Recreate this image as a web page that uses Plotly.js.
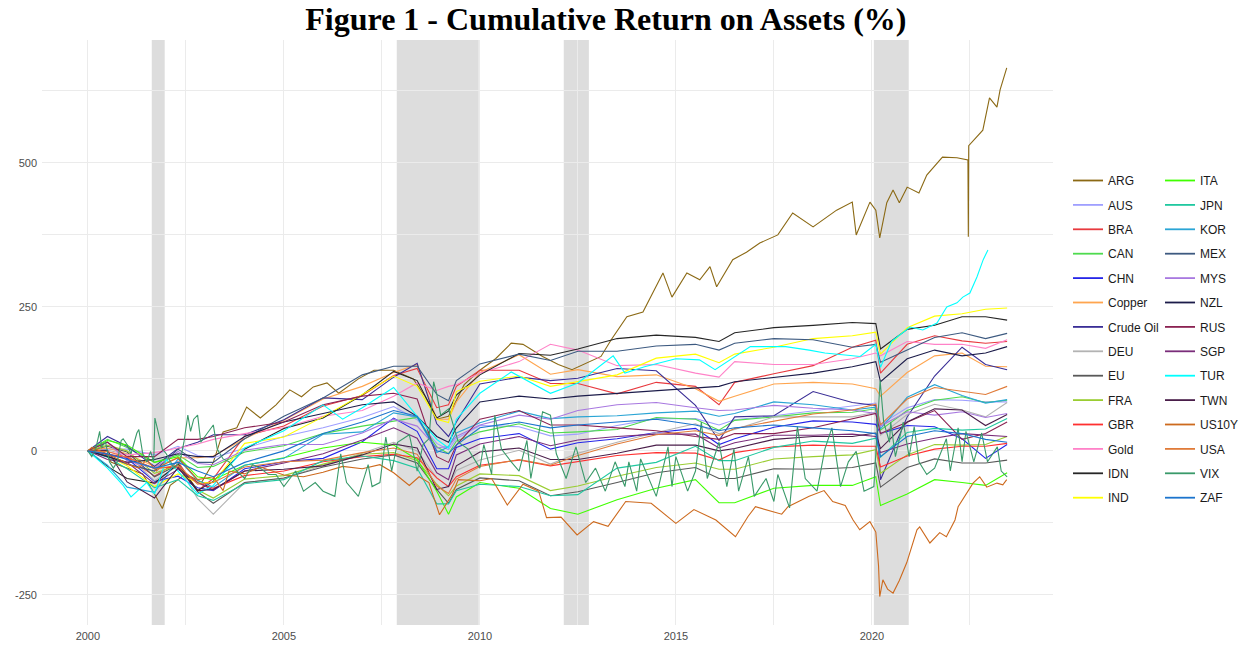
<!DOCTYPE html>
<html>
<head>
<meta charset="utf-8">
<script src="https://cdn.plot.ly/plotly-3.0.1.min.js"></script>
<style>html,body{margin:0;padding:0;background:#fff;}#chart{width:1239px;height:648px;}</style>
</head>
<body>
<div id="chart"></div>
<script>
// ---- data (cumulative log return, %) ----
const grid = [2000.0,2000.5,2001.0,2001.7,2002.3,2002.8,2003.2,2004.0,2005.0,2006.0,2007.0,2007.8,2008.4,2008.9,2009.2,2009.4,2010.0,2011.0,2011.8,2012.5,2013.5,2014.5,2015.5,2016.1,2016.5,2017.5,2018.5,2019.5,2020.1,2020.22,2020.9,2021.6,2022.3,2022.9,2023.45];

const argDates = [2000.0,2000.3,2000.6,2001.0,2001.4,2001.7,2001.9,2002.1,2002.5,2002.9,2003.2,2003.45,2003.8,2004.05,2004.4,2004.8,2005.15,2005.45,2005.75,2006.1,2006.4,2006.9,2007.3,2007.8,2008.3,2008.6,2008.9,2009.2,2009.6,2010.0,2010.4,2010.8,2011.1,2011.6,2012.0,2012.35,2012.7,2013.09,2013.35,2013.57,2013.75,2014.16,2014.67,2014.9,2015.28,2015.61,2015.87,2016.04,2016.45,2016.8,2017.14,2017.6,2017.98,2018.5,2019.1,2019.5,2019.6,2019.95,2020.1,2020.2,2020.38,2020.54,2020.7,2020.9,2021.2,2021.4,2021.8,2022.17,2022.45,2022.46,2022.47,2022.83,2023.0,2023.19,2023.27,2023.44];
const argVals = [0,10,-20,-30,-40,-75,-100,-60,-40,-55,-20,33,40,76,57,80,106,94,111,118,100,125,140,140,125,95,55,60,115,140,160,187,185,164,150,141,152,164,193,215,233,241,309,267,309,297,320,285,332,345,361,375,413,389,418,432,375,432,418,370,431,453,431,458,448,479,510,509,505,372,530,557,613,597,627,665];

const us10Dates = [2000.0,2000.1,2000.5,2000.9,2001.0,2001.3,2001.5,2001.75,2001.9,2002.3,2002.8,2003.2,2003.45,2003.6,2004.0,2004.4,2005.0,2005.5,2006.0,2006.5,2007.0,2007.45,2007.8,2008.2,2008.45,2008.7,2008.97,2009.3,2009.45,2010.0,2010.3,2010.7,2011.1,2011.5,2011.7,2012.07,2012.48,2012.9,2013.27,2013.72,2014.37,2015.0,2015.46,2016.02,2016.52,2016.84,2017.03,2017.7,2017.86,2018.4,2018.78,2019.0,2019.32,2019.52,2019.69,2019.95,2020.1,2020.17,2020.2,2020.28,2020.4,2020.54,2020.7,2020.89,2021.15,2021.22,2021.48,2021.73,2021.9,2022.12,2022.2,2022.42,2022.58,2022.75,2022.93,2023.19,2023.34,2023.44];
const us10Vals = [0,6,-6,-18,-23,-30,-15,-35,-25,-12,-50,-45,-69,-35,-40,-28,-42,-45,-37,-27,-31,-24,-38,-60,-45,-55,-111,-75,-50,-52,-48,-94,-58,-70,-116,-115,-146,-123,-131,-88,-91,-126,-102,-120,-149,-114,-97,-110,-97,-79,-69,-88,-95,-120,-137,-123,-141,-200,-253,-224,-240,-247,-225,-194,-137,-132,-160,-142,-149,-120,-97,-73,-56,-45,-63,-56,-59,-50];

const turDates = [2000.0,2000.5,2000.9,2001.1,2001.5,2001.7,2002.0,2002.3,2002.8,2003.2,2004.0,2005.0,2006.0,2006.5,2007.0,2007.8,2008.4,2008.9,2009.2,2009.4,2010.0,2010.8,2011.8,2012.5,2013.4,2013.7,2014.2,2015.0,2015.6,2016.0,2016.9,2017.8,2018.4,2018.8,2019.7,2020.1,2020.22,2020.5,2020.97,2021.3,2021.66,2021.91,2022.17,2022.32,2022.5,2022.68,2022.84,2022.96];
const turVals = [0,-30,-60,-80,-55,-75,-15,-35,-75,-60,5,35,80,55,75,110,60,20,5,55,100,137,100,118,165,135,146,160,158,141,181,181,175,170,164,185,145,190,215,210,222,250,257,267,274,302,332,349];

const vixDates = [2000.0,2000.1,2000.2,2000.3,2000.35,2000.45,2000.55,2000.65,2000.75,2000.85,2000.9,2001.0,2001.1,2001.25,2001.3,2001.4,2001.5,2001.6,2001.68,2001.71,2001.8,2001.9,2002.0,2002.2,2002.35,2002.45,2002.55,2002.62,2002.7,2002.8,2002.88,2002.95,2003.05,2003.2,2003.3,2003.45,2003.6,2003.8,2004.0,2004.2,2004.4,2004.6,2004.8,2005.0,2005.3,2005.5,2005.8,2006.0,2006.3,2006.45,2006.6,2006.9,2007.15,2007.25,2007.45,2007.6,2007.75,2007.9,2008.05,2008.2,2008.4,2008.55,2008.7,2008.82,2008.9,2009.0,2009.2,2009.45,2009.7,2010.0,2010.1,2010.3,2010.38,2010.55,2010.8,2011.0,2011.2,2011.3,2011.6,2011.8,2011.95,2012.2,2012.45,2012.7,2012.95,2013.2,2013.45,2013.7,2013.8,2014.0,2014.1,2014.5,2014.8,2014.9,2015.0,2015.3,2015.5,2015.65,2015.8,2016.1,2016.3,2016.48,2016.6,2016.85,2017.0,2017.3,2017.5,2017.6,2017.9,2018.1,2018.3,2018.6,2018.8,2018.98,2019.2,2019.4,2019.6,2019.8,2020.05,2020.15,2020.21,2020.3,2020.45,2020.48,2020.6,2020.8,2020.95,2021.08,2021.2,2021.4,2021.6,2021.9,2022.0,2022.2,2022.3,2022.4,2022.6,2022.8,2022.95,2023.2,2023.3,2023.45];
const vixVals = [0,-10,3,34,7,15,-19,-30,-19,18,21,11,-5,31,37,-5,-19,-1,-19,57,31,3,-5,-30,-19,15,62,34,55,62,15,21,31,45,3,-14,-19,-35,-48,-24,-30,-41,-41,-62,-35,-70,-55,-70,-79,-5,-55,-79,-24,-62,-55,24,-35,15,21,28,-35,11,21,120,99,62,73,15,3,-30,11,-41,62,3,-19,-35,18,-48,68,62,-5,-48,7,-55,-30,-70,-19,-62,-19,-70,-14,-79,7,-62,-10,-70,-35,50,-48,15,-62,3,-70,-10,-79,-48,-88,-41,-99,42,-48,-70,3,40,-62,-19,-1,-70,-62,50,122,50,15,50,-10,50,-10,42,-19,-41,-30,21,-35,40,-19,34,-19,31,-19,7,-35,-45];

const aus    = [0,3,3,-7,8,-8,-12,5,25,40,58,77,54,13,2,21,44,42,26,29,44,56,56,45,54,61,69,77,83,46,75,89,88,85,85];
const bra    = [0,-6,-11,-44,-19,-69,-48,26,43,78,96,131,143,75,80,112,140,140,117,117,99,119,112,80,119,134,148,180,192,135,185,200,191,187,190];
const can    = [0,20,6,-20,-7,-29,-27,-2,9,30,43,51,58,7,-5,17,33,47,31,33,37,58,55,36,53,59,66,67,73,36,70,88,94,84,88];
const chn    = [0,-6,-13,-53,-44,-64,-69,-31,-19,-13,16,57,34,-31,-31,6,21,30,3,14,21,32,39,11,21,41,52,50,46,30,44,42,21,-13,11];
const copper = [0,5,-5,-27,-12,-12,-9,21,53,90,112,136,150,55,55,85,136,167,133,141,129,132,108,86,95,116,119,116,108,95,136,165,170,147,146];
const crude  = [0,25,8,-27,4,15,28,28,54,92,89,128,152,47,25,50,116,128,122,126,143,139,79,18,59,61,103,84,79,-50,59,130,180,150,141];
const deu    = [0,1,-6,-52,-26,-83,-110,-55,-48,-25,-4,15,0,-47,-62,-34,-16,1,-23,-4,15,32,47,30,37,59,59,59,67,27,63,81,71,59,84];
const eu     = [0,8,-2,-45,-24,-71,-91,-55,-47,-28,-14,-7,-21,-67,-91,-67,-47,-52,-78,-71,-55,-38,-29,-48,-48,-31,-32,-29,-21,-63,-29,-14,-21,-21,-16];
const fra    = [0,10,0,-39,-25,-68,-82,-49,-43,-23,-6,-3,-17,-58,-78,-61,-40,-43,-69,-61,-44,-29,-21,-32,-32,-14,-10,-7,2,-39,-7,11,10,11,25];
const gbr    = [0,-8,-11,-30,-28,-55,-65,-43,-35,-19,-10,-6,-12,-47,-62,-45,-25,-16,-26,-19,-8,-3,-4,-16,-3,7,10,8,8,-28,-9,3,8,8,13];
const gold   = [0,-2,-7,-3,5,12,20,30,40,60,70,95,118,105,112,115,135,155,185,175,148,150,135,128,155,150,150,160,170,165,190,185,185,178,193];
const idn    = [0,-27,-48,-56,-23,-69,-53,3,39,57,97,138,122,57,69,97,132,169,166,177,195,201,197,190,205,214,218,223,221,177,211,218,233,233,227];
const ind    = [0,-9,-26,-62,-40,-55,-55,13,24,59,98,130,112,55,49,103,121,130,112,120,132,161,168,153,168,180,195,200,206,168,214,234,238,246,248];
const ita    = [0,18,10,-20,-10,-45,-50,-25,-12,5,15,10,-15,-70,-110,-80,-55,-65,-100,-110,-85,-65,-50,-90,-90,-65,-60,-60,-45,-95,-75,-50,-55,-60,-38];
const jpn    = [0,-11,-31,-64,-50,-78,-86,-57,-50,-17,-9,-17,-30,-92,-92,-69,-58,-62,-78,-76,-30,-20,8,-17,-17,6,17,13,22,-11,32,39,36,38,56];
const kor    = [0,-25,-63,-72,-14,-51,-63,-25,-13,29,33,66,59,-3,7,31,49,69,56,59,61,66,69,60,65,85,80,71,76,38,93,115,96,83,89];
const mex    = [0,-9,-23,-35,3,-20,-20,21,60,92,132,147,147,98,87,122,151,168,157,173,173,182,185,175,187,195,193,180,185,154,175,197,205,195,204];
const mys    = [0,15,-17,-30,-1,-22,-24,1,11,11,31,55,43,5,8,25,45,62,55,70,80,84,75,70,71,79,74,71,65,43,68,62,68,58,65];
const nzl    = [0,-10,-20,-15,-5,-10,-10,25,50,65,80,85,60,25,15,40,85,95,90,95,100,105,110,112,120,128,135,146,155,120,160,175,165,170,181];
const rus    = [0,15,-10,-10,20,20,25,40,50,80,95,100,90,-10,-20,10,55,70,45,45,40,35,25,20,30,30,40,55,65,30,50,70,20,30,50];
const sgp    = [0,-15,-20,-57,-32,-55,-68,-35,-21,-5,19,40,22,-38,-50,-7,12,25,9,19,25,29,29,5,14,27,27,29,25,-3,12,22,30,27,25];
const twn    = [0,1,-54,-82,-29,-69,-67,-35,-32,-26,-7,12,5,-67,-62,-26,-2,5,-15,-15,-4,10,10,0,4,20,25,25,31,4,50,73,71,44,63];
const usa    = [0,-1,-11,-31,-25,-58,-55,-28,-19,-16,-3,5,-6,-61,-74,-49,-27,-15,-25,-8,12,28,35,27,39,51,64,71,81,45,90,110,103,98,112];
const zaf    = [0,-5,-15,-30,-20,-35,-45,-20,0,30,50,70,60,0,-5,10,40,50,40,45,50,55,45,35,40,45,40,35,30,-10,25,35,30,20,15];

const names  = ['ARG','AUS','BRA','CAN','CHN','Copper','Crude Oil','DEU','EU','FRA','GBR','Gold','IDN','IND','ITA','JPN','KOR','MEX','MYS','NZL','RUS','SGP','TUR','TWN','US10Y','USA','VIX','ZAF'];
const colors = ['#8B6914','#9F9FFF','#E8393E','#4EDB4E','#2525E8','#FFA54F','#3A2E96','#B3B3B3','#595959','#9ACD32','#FF3030','#FF82C8','#262626','#FFFF00','#40FF00','#20C8A0','#2AA5D5','#3D5A80','#A878E0','#1C1C4A','#8B2252','#7A2D7A','#00FFFF','#4A1E4A','#CD6A1E','#E07B39','#3A9A6A','#1C74CD'];

const series = {
  'ARG':[argDates,argVals],'AUS':[grid,aus],'BRA':[grid,bra],'CAN':[grid,can],'CHN':[grid,chn],
  'Copper':[grid,copper],'Crude Oil':[grid,crude],'DEU':[grid,deu],'EU':[grid,eu],'FRA':[grid,fra],
  'GBR':[grid,gbr],'Gold':[grid,gold],'IDN':[grid,idn],'IND':[grid,ind],'ITA':[grid,ita],'JPN':[grid,jpn],
  'KOR':[grid,kor],'MEX':[grid,mex],'MYS':[grid,mys],'NZL':[grid,nzl],'RUS':[grid,rus],'SGP':[grid,sgp],
  'TUR':[turDates,turVals],'TWN':[grid,twn],'US10Y':[us10Dates,us10Vals],'USA':[grid,usa],
  'VIX':[vixDates,vixVals],'ZAF':[grid,zaf]
};

// shaded crisis periods
const shadeStart = [2001.63, 2007.88, 2012.14, 2020.05];
const shadeEnd   = [2001.96, 2009.97, 2012.78, 2020.94];

// plotted lines (thin), legend shown through legend-only keys with a slightly thicker stroke
const dataTraces = names.map((n,i)=>({
  type:'scatter', mode:'lines', name:n,
  x: series[n][0], y: series[n][1],
  line:{color:colors[i], width:1.1},
  showlegend:false, hoverinfo:'skip'
}));
const keyTraces = names.map((n,i)=>({
  type:'scatter', mode:'lines', name:n,
  x:[null], y:[null],
  line:{color:colors[i], width:1.8},
  legend: i < 14 ? 'legend' : 'legend2',
  legendgroup:'g'+i, showlegend:true, hoverinfo:'skip'
}));

const shapes = shadeStart.map((s,i)=>({
  type:'rect', xref:'x', yref:'paper', x0:s, x1:shadeEnd[i], y0:0, y1:1,
  fillcolor:'rgba(160,160,160,0.36)', line:{width:0}, layer:'below'
}));

const legendBase = {
  xref:'container', yref:'container', yanchor:'top', xanchor:'left',
  font:{family:'Liberation Sans, Arial, sans-serif', size:12, color:'#1a1a1a'},
  bgcolor:'rgba(0,0,0,0)', tracegroupgap:5.4, itemwidth:30, borderwidth:0, maxheight:520
};

const layout = {
  width:1239, height:648,
  margin:{l:42, r:186, t:40, b:23},
  paper_bgcolor:'#ffffff', plot_bgcolor:'#ffffff',
  title:{text:'<b>Figure 1 - Cumulative Return on Assets (%)</b>', x:0.489, xref:'container', xanchor:'center',
         y:0.971, yref:'container', yanchor:'middle',
         font:{family:'Liberation Serif, Times New Roman, serif', size:32, color:'#000'}},
  xaxis:{range:[1998.83,2024.62], tickmode:'array', tickvals:[2000,2005,2010,2015,2020],
         ticktext:['2000','2005','2010','2015','2020'],
         showgrid:true, gridcolor:'#EBEBEB', gridwidth:1, zeroline:false, showline:false, ticks:'',
         ticklabelstandoff:3,
         minor:{tickvals:[2002.5,2007.5,2012.5,2017.5,2022.5], showgrid:true, gridcolor:'#EBEBEB', gridwidth:1},
         tickfont:{family:'Liberation Sans, Arial, sans-serif', size:11, color:'#4D4D4D'}},
  yaxis:{range:[-302.4,713.5], tickmode:'array', tickvals:[-250,0,250,500], ticktext:['-250','0','250','500'],
         showgrid:true, gridcolor:'#EBEBEB', gridwidth:1, zeroline:false, showline:false, ticks:'',
         ticklabelstandoff:4,
         minor:{tickvals:[-125,125,375,625], showgrid:true, gridcolor:'#EBEBEB', gridwidth:1},
         tickfont:{family:'Liberation Sans, Arial, sans-serif', size:11, color:'#4D4D4D'}},
  shapes:shapes,
  showlegend:true,
  legend: Object.assign({}, legendBase, {x:1068/1239, y:1-166/648}),
  legend2: Object.assign({}, legendBase, {x:1160/1239, y:1-166/648})
};

Plotly.newPlot('chart', dataTraces.concat(keyTraces), layout, {staticPlot:true, displayModeBar:false});
</script>
</body>
</html>
